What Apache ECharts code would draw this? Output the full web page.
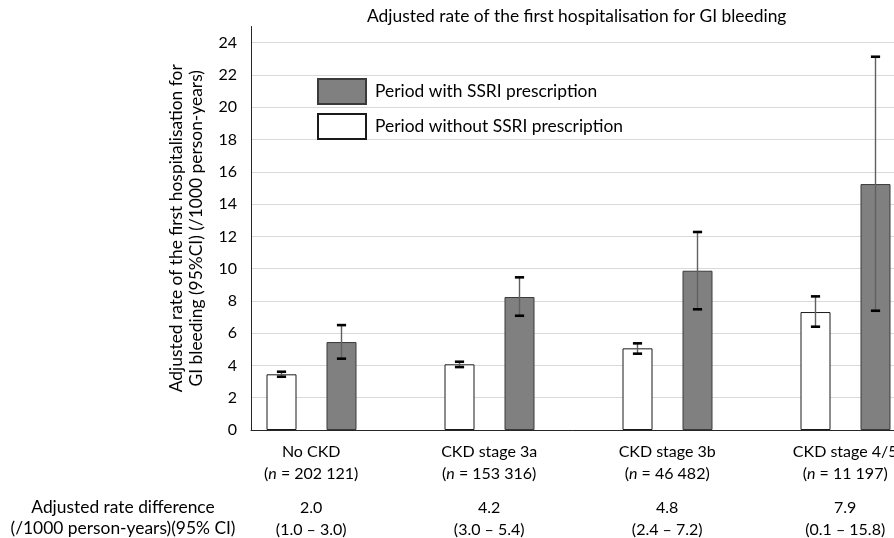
<!DOCTYPE html>
<html><head><meta charset="utf-8">
<script src="https://cdn.jsdelivr.net/npm/echarts@6/dist/echarts.min.js"></script>
<style>html,body{margin:0;padding:0;background:#fff}#c{width:894px;height:538px}</style>
</head><body><div id="c"></div>
<script>
// ---- data ----
const categories = ['No CKD', 'CKD stage 3a', 'CKD stage 3b', 'CKD stage 4/5'];
const nCounts = ['202 121', '153 316', '46 482', '11 197'];
const withoutSSRI = [3.45, 4.07, 5.06, 7.31];
const withoutLow = [3.30, 3.90, 4.73, 6.40];
const withoutHigh = [3.61, 4.23, 5.37, 8.28];
const withSSRI = [5.45, 8.24, 9.87, 15.24];
const withLow = [4.42, 7.08, 7.48, 7.39];
const withHigh = [6.50, 9.46, 12.27, 23.13];
const rateDiff = ['2.0', '4.2', '4.8', '7.9'];
const diffLow = ['1.0', '3.0', '2.4', '0.1'];
const diffHigh = ['3.0', '5.4', '7.2', '15.8'];
const yTicks = { min: 0, max: 24, interval: 2 };
const seriesNames = ['Period without SSRI prescription', 'Period with SSRI prescription'];
const titleText = 'Adjusted rate of the first hospitalisation for GI bleeding';
const yName = 'Adjusted rate of the first hospitalisation for\nGI bleeding (95%CI) (/1000 person-years)';
const rowHeader = ['Adjusted rate difference', '(/1000 person-years)(95% CI)'];

// ---- layout / style ----
const FONT = 'Lato, "Open Sans", sans-serif';
const FS = 16;      // axis labels
const FS_BIG = 17.4; // title, legend, axis name, row header
const BAR_W = 30, SPACER_W = 27;
const groupW = BAR_W * 2 + BAR_W * 2 + SPACER_W;
const offWithout = -groupW / 2 + BAR_W / 2;
const offWith = -groupW / 2 + BAR_W * 2 + BAR_W / 2;
const AXIS_COLOR = '#262626';

const chart = echarts.init(document.getElementById('c'), null, { renderer: 'canvas' });

function errorSeries(name, low, high, off) {
  return {
    type: 'custom', name: name, xAxisIndex: 0, yAxisIndex: 0, z: 5, silent: true,
    encode: { x: 0, y: [1, 2] },
    data: low.map((l, i) => [i, l, high[i]]),
    renderItem: function (params, api) {
      const lo = api.coord([api.value(0), api.value(1)]);
      const hi = api.coord([api.value(0), api.value(2)]);
      const x = lo[0] + off;
      const cw = 4.6;
      return {
        type: 'group', children: [
          { type: 'line', shape: { x1: x, y1: lo[1], x2: x, y2: hi[1] }, style: { stroke: '#606060', lineWidth: 1.4 } },
          { type: 'line', shape: { x1: x - cw, y1: hi[1], x2: x + cw, y2: hi[1] }, style: { stroke: '#000', lineWidth: 2.6 } },
          { type: 'line', shape: { x1: x - cw, y1: lo[1], x2: x + cw, y2: lo[1] }, style: { stroke: '#000', lineWidth: 2.6 } }
        ]
      };
    }
  };
}

const gridBase = { width: 712, outerBoundsMode: 'none', containLabel: false };

const option = {
  animation: false,
  backgroundColor: '#fff',
  textStyle: { fontFamily: FONT },
  title: {
    text: titleText, left: 367, top: 8, padding: 0,
    textStyle: { fontFamily: FONT, fontSize: FS_BIG, fontWeight: 'normal', color: '#000' }
  },
  legend: {
    orient: 'vertical', left: 317, top: 78, padding: 0, itemWidth: 48, itemHeight: 25, itemGap: 8,
    icon: 'rect', data: [seriesNames[1], seriesNames[0]],
    textStyle: { fontFamily: FONT, fontSize: FS_BIG, color: '#000', padding: [0, 0, 0, 4] }
  },
  grid: [
    Object.assign({ left: 251, top: 42.7, height: 387.3 }, gridBase),
    Object.assign({ left: 251, top: 26.5, height: 403.5 }, gridBase),
    Object.assign({ left: 222.2, top: 42.7, height: 387.3 }, gridBase)
  ],
  xAxis: [
    { type: 'category', gridIndex: 0, data: categories,
      axisLine: { show: true, lineStyle: { color: AXIS_COLOR, width: 1 } },
      axisTick: { show: false }, axisLabel: { show: false }, splitLine: { show: false } },
    { type: 'category', gridIndex: 1, data: categories, show: false },
    { type: 'category', gridIndex: 2, data: categories,
      axisLine: { show: false }, axisTick: { show: false }, splitLine: { show: false },
      axisLabel: {
        show: true, margin: 11, interval: 0, hideOverlap: false,
        formatter: function (v) {
          const i = categories.indexOf(v);
          return '{a|' + v + '}\n{a|(}{i|n}{a| = ' + nCounts[i] + ')}\n{s| }\n{a|' + rateDiff[i] + '}\n{a|(' + diffLow[i] + ' – ' + diffHigh[i] + ')}';
        },
        rich: {
          a: { fontFamily: FONT, fontSize: FS, lineHeight: 22, color: '#000' },
          i: { fontFamily: FONT, fontSize: FS, lineHeight: 22, color: '#000', fontStyle: 'italic' },
          s: { fontSize: 6, lineHeight: 12 }
        }
      } }
  ],
  yAxis: [
    { type: 'value', gridIndex: 0, min: yTicks.min, max: yTicks.max, interval: yTicks.interval,
      axisLine: { show: false }, axisTick: { show: false },
      axisLabel: { fontFamily: FONT, fontSize: FS, color: '#000', margin: 14 },
      splitLine: { show: true, lineStyle: { color: '#d9d9d9', width: 1 } } },
    { type: 'value', gridIndex: 1, min: 0, max: 25,
      axisLine: { show: true, lineStyle: { color: AXIS_COLOR, width: 1 } },
      axisTick: { show: false }, axisLabel: { show: false }, splitLine: { show: false },
      name: yName, nameLocation: 'middle', nameGap: 44, nameRotate: 90,
      nameTextStyle: { fontFamily: FONT, fontSize: FS_BIG, color: '#000', lineHeight: 20.5, align: 'center' } },
    { type: 'value', gridIndex: 2, min: yTicks.min, max: yTicks.max, show: false }
  ],
  series: [
    { type: 'bar', name: seriesNames[0], xAxisIndex: 0, yAxisIndex: 0, data: withoutSSRI,
      barWidth: BAR_W, barGap: '100%',
      itemStyle: { color: '#ffffff', borderColor: '#1a1a1a', borderWidth: 1 } },
    { type: 'bar', name: seriesNames[1], xAxisIndex: 0, yAxisIndex: 0, data: withSSRI,
      barWidth: BAR_W, barGap: '100%',
      itemStyle: { color: '#808080', borderColor: '#3a3a3a', borderWidth: 1 } },
    { type: 'bar', name: 'spacer', xAxisIndex: 0, yAxisIndex: 0, data: categories.map(() => null),
      barWidth: SPACER_W, barGap: '100%', silent: true, itemStyle: { color: 'transparent' } },
    errorSeries('ci-without', withoutLow, withoutHigh, offWithout),
    errorSeries('ci-with', withLow, withHigh, offWith)
  ],
  graphic: [
    { type: 'text', x: 123, y: 507, style: { text: rowHeader[0], fontFamily: FONT, fontSize: FS_BIG, fill: '#000', textAlign: 'center', textVerticalAlign: 'middle' } },
    { type: 'text', x: 123, y: 528, style: { text: rowHeader[1], fontFamily: FONT, fontSize: FS_BIG, fill: '#000', textAlign: 'center', textVerticalAlign: 'middle' } }
  ]
};
chart.setOption(option);
</script>
</body></html>
